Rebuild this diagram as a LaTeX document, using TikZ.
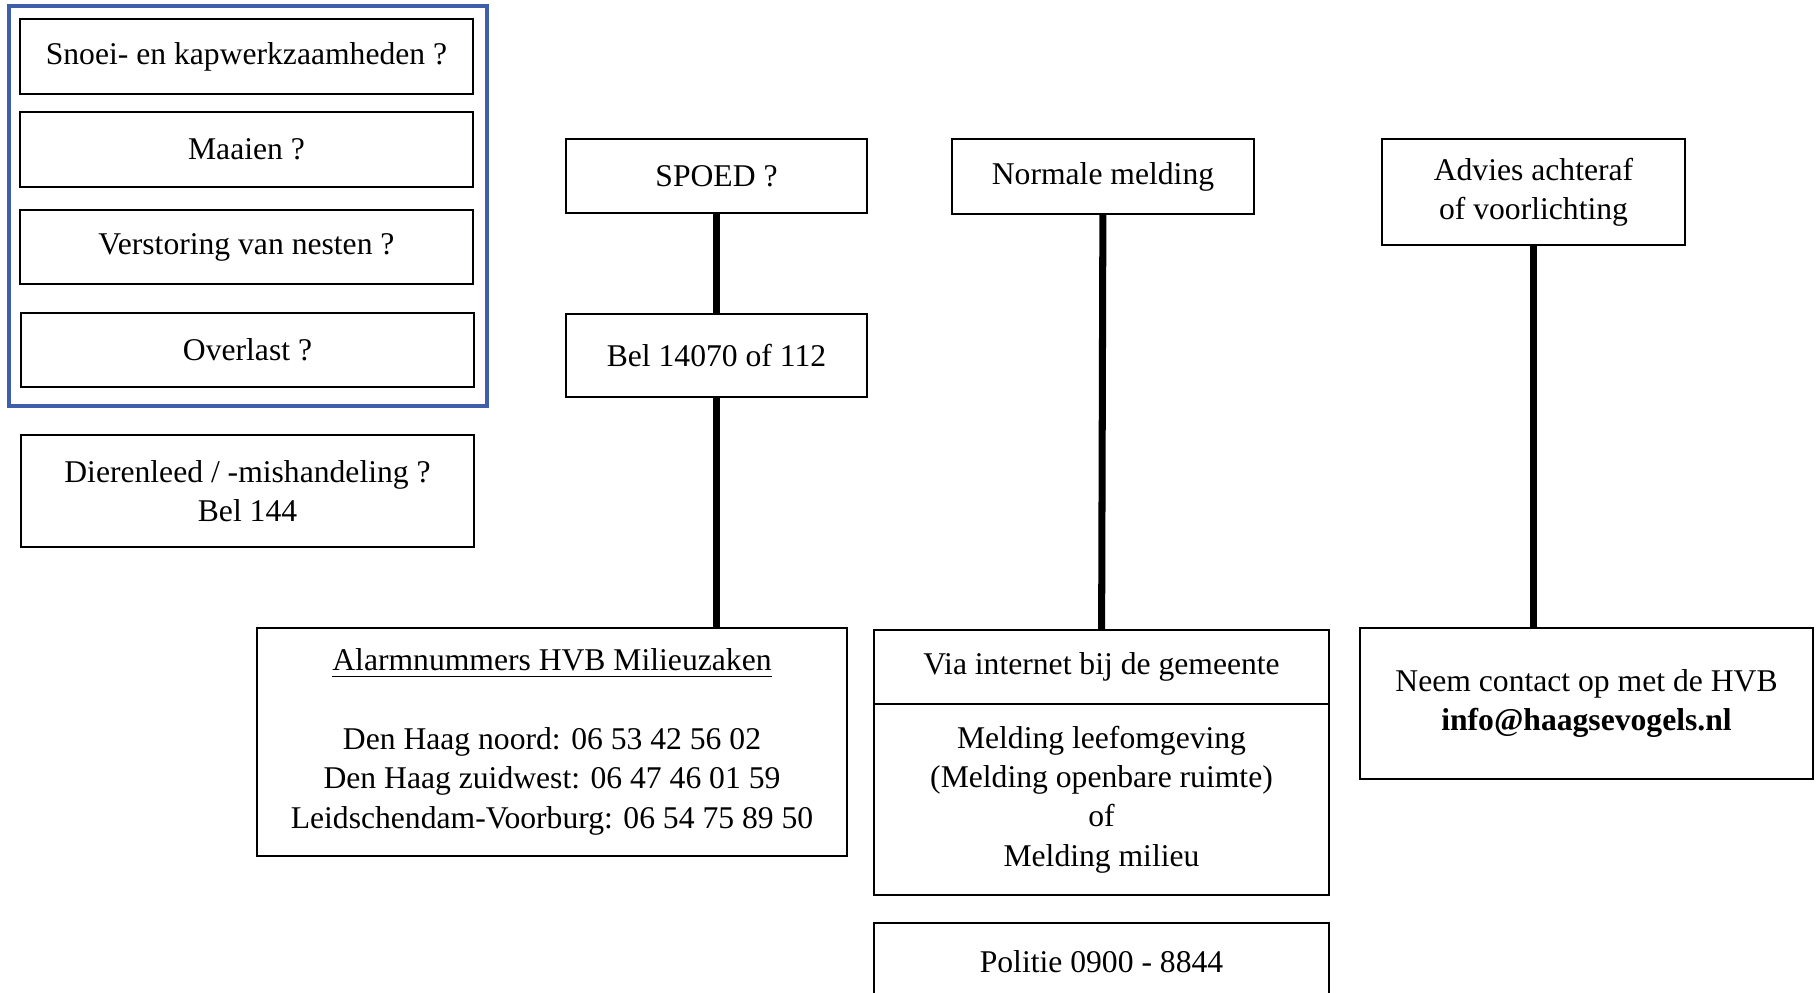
\documentclass[tikz,border=0pt]{standalone}
\usepackage{fontspec}
\setmainfont{Liberation Serif}
\definecolor{blauw}{RGB}{62,96,170}
\tikzset{
  vak/.style={draw, line width=0.6pt, inner sep=0pt, align=center,
    font=\fontsize{9}{11.2}\selectfont},
  lijn/.style={line width=2pt},
  groep/.style={draw=blauw, line width=0.9pt}
}
\begin{document}
\begin{tikzpicture}
  \useasboundingbox (0,0) rectangle (18.18,-9.93);
  % vragen links
  \draw[groep] (0.09,-0.06) rectangle (4.87,-4.06);
  \node[vak, minimum width=4.53cm, minimum height=0.75cm] (snoei) at (2.465,-0.565) {Snoei- en kapwerkzaamheden ?};
  \node[vak, minimum width=4.53cm, minimum height=0.75cm] (maaien) at (2.465,-1.495) {Maaien ?};
  \node[vak, minimum width=4.53cm, minimum height=0.74cm] (nesten) at (2.465,-2.47) {Verstoring van nesten ?};
  \node[vak, minimum width=4.53cm, minimum height=0.74cm] (overlast) at (2.475,-3.5) {Overlast ?};
  \node[vak, minimum width=4.53cm, minimum height=1.12cm] (dieren) at (2.475,-4.91) {Dierenleed / -mishandeling ?\\Bel 144};
  % kolommen
  \node[vak, minimum width=3.01cm, minimum height=0.74cm] (spoed) at (7.165,-1.76) {SPOED ?};
  \node[vak, minimum width=3.01cm, minimum height=0.83cm] (bel) at (7.165,-3.555) {Bel 14070 of 112};
  \node[vak, minimum width=5.9cm, minimum height=2.28cm] (alarm) at (5.52,-7.42)
    {\underline{Alarmnummers HVB Milieuzaken}\\[11.2pt]
     Den Haag noord: 06 53 42 56 02\\
     Den Haag zuidwest: 06 47 46 01 59\\
     Leidschendam-Voorburg: 06 54 75 89 50};
  \node[vak, minimum width=3.02cm, minimum height=0.75cm] (normaal) at (11.03,-1.765) {Normale melding};
  \node[vak, minimum width=4.55cm, minimum height=0.74cm] (internet) at (11.015,-6.67) {Via internet bij de gemeente};
  \node[vak, minimum width=4.55cm, minimum height=1.91cm] (melding) at (11.015,-7.995)
    {Melding leefomgeving\\(Melding openbare ruimte)\\of\\Melding milieu};
  \node[vak, minimum width=4.55cm, minimum height=0.77cm] (politie) at (11.015,-9.615) {Politie 0900 - 8844};
  \node[vak, minimum width=3.03cm, minimum height=1.06cm] (advies) at (15.335,-1.92) {Advies achteraf\\of voorlichting};
  \node[vak, minimum width=4.53cm, minimum height=1.51cm] (hvb) at (15.865,-7.035)
    {Neem contact op met de HVB\\\textbf{info@haagsevogels.nl}};
  \begin{scope}[lijn]
    \draw (spoed) to (bel);
    \draw (bel.south) to (bel.south |- alarm.north);
    \draw (normaal) to (internet);
    \draw (advies.south) to (advies.south |- hvb.north);
  \end{scope}
\end{tikzpicture}
\end{document}
